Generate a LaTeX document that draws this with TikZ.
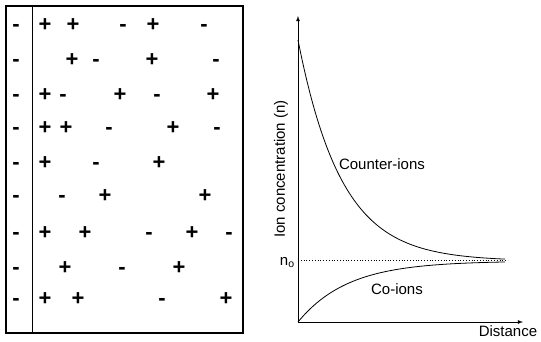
\documentclass[tikz,border=0pt]{standalone}
\usepackage{fontspec}
\setmainfont{Liberation Sans}
\usetikzlibrary{arrows}

\begin{document}
\begin{tikzpicture}[x=1pt, y=-1pt,
			sign/.style={font=\fontsize{22}{24}\selectfont\bfseries, inner sep=0pt, anchor=base},
			lbl/.style={font=\fontsize{15}{18}\selectfont, inner sep=0pt},
			>=latex,   %Pfeilspitzen
			line width=0.8pt]
			\useasboundingbox (0,0) rectangle (541,342);
			% Kasten mit Wand
			\draw[black, line width=1.6pt] (6,6) rectangle (243,333);
			\coordinate (wt) at (32,6);
			\coordinate (wb) at (32,333);
			\draw[black] (wt) -- (wb);
			% Ladungen an der Wand
			\foreach \y [count=\i] in {25,60,95,128,163,196,232,267,298}
				\node[sign] (w\i) at (16,\y+7) {-};
			% Ionen in der Loesung
			\foreach \x/\y/\s [count=\i] in {45/25/+, 73/25/+, 123/25/-, 153/25/+, 204/25/-,
					72/60/+, 96/60/-, 152/60/+, 216/60/-,
					45/95/+, 63/95/-, 120/95/+, 157/95/-, 213/95/+,
					45/128/+, 66/128/+, 109/128/-, 173/128/+, 217/128/-,
					45/163/+, 96/163/-, 159/163/+,
					62/196/-, 105/196/+, 205/196/+,
					45/232/+, 85/232/+, 149/232/-, 192/232/+, 229/232/-,
					65/267/+, 122/267/-, 179/267/+,
					45/298/+, 78/298/+, 162/298/-, 226/298/+}
				\node[sign] (i\i) at (\x,\y+7) {\s};
			% Achsen
			\coordinate (O) at (298,322);
			\coordinate (ytop) at (298,16);
			\coordinate (xend) at (523,322);
			\draw[->] (O) -- (ytop);
			\draw[->] (O) -- (xend);
			\node[lbl, rotate=90] (ylab) at (281,169) {Ion concentration (n)};
			\node[lbl, anchor=north] (xlab) at (508,325) {Distance};
			% n_o
			\node[lbl, anchor=base east] (n0) at (295,265) {n\textsubscript{o}};
			\coordinate (n0r) at (508,260);
			\draw[dotted] (298,260) -- (n0r);
			% Kurven
			\draw[black] plot[domain=298:505, samples=90, smooth] (\x, {261-221*exp(-0.023*(\x-298))});
			\draw[black] plot[domain=298:505, samples=90, smooth] (\x, {261+61*exp(-0.02*(\x-298))});
			\node[lbl] (ci) at (382,164) {Counter-ions};
			\node[lbl] (co) at (397,289) {Co-ions};
		\end{tikzpicture}
\end{document}
